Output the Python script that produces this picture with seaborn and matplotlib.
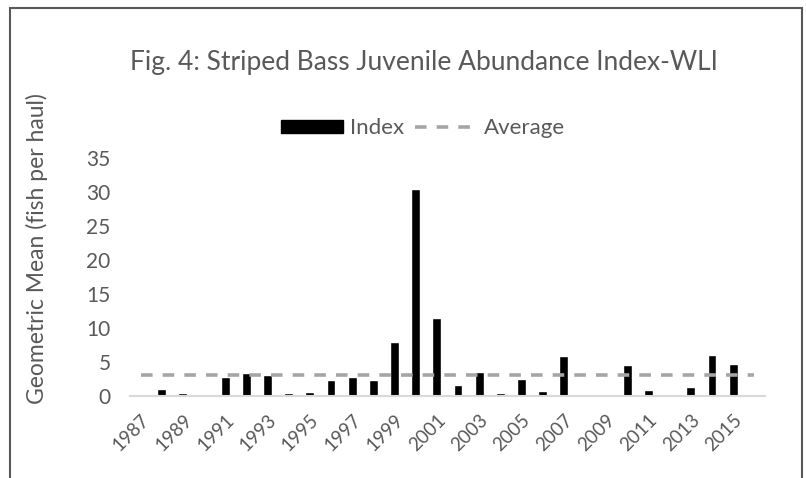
import matplotlib
matplotlib.use("Agg")
from matplotlib import pyplot as plt
from matplotlib.patches import Rectangle, Patch
from matplotlib.lines import Line2D
import pandas as pd
import seaborn as sns

years = [str(y) for y in range(1987, 2017)]
index_vals = [0.2, 1.0, 0.45, 0.2, 2.8, 3.4, 3.1, 0.5, 0.6, 2.4,
              2.8, 2.4, 8.0, 30.4, 11.4, 1.6, 3.6, 0.45, 2.5, 0.75,
              5.9, 0.05, 0.3, 4.5, 0.9, 0.1, 1.4, 6.1, 4.7, 0.25]
average_vals = [3.1] * len(years)

df = pd.DataFrame({"Year": years, "Index": index_vals, "Average": average_vals})

sns.set_style("white")
plt.rcParams["font.family"] = ["Lato", "DejaVu Sans"]
grey = "#595959"

fig = plt.figure(figsize=(8.06, 4.78), dpi=100)
ax = fig.add_axes([0.1613, 0.1715, 0.7877, 0.498])

sns.barplot(data=df, x="Year", y="Index", color="black", width=0.42,
            saturation=1, ax=ax)
sns.lineplot(data=df, x="Year", y="Average", color="#a5a5a5", lw=2.6,
             dashes=False, ax=ax, linestyle=(0, (3.2, 2.8)))

ax.set_ylim(0, 35)
ax.set_xlim(-0.5, len(years) - 0.5)
ax.set_yticks(range(0, 36, 5))
ax.set_xticks(range(0, len(years), 2))
ax.set_xticklabels(years[::2], rotation=45, ha="right", rotation_mode="anchor")
ax.tick_params(axis="both", length=0, colors=grey)
ax.tick_params(axis="x", pad=11, labelsize=13.5)
ax.tick_params(axis="y", pad=14, labelsize=15)
for s in ["top", "right", "left"]:
    ax.spines[s].set_visible(False)
ax.spines["bottom"].set_color("#d9d9d9")
ax.spines["bottom"].set_linewidth(1.5)

ax.set_xlabel("")
ax.set_ylabel("Geometric Mean (fish per haul)", color=grey, fontsize=16.5)
ax.yaxis.set_label_coords(-0.129, 0.62)

fig.text(0.526, 0.870, "Fig. 4: Striped Bass Juvenile Abundance Index-WLI",
         ha="center", va="center", fontsize=19, color=grey)

handles = [Patch(facecolor="black", edgecolor="black"),
           Line2D([], [], color="#a5a5a5", lw=2.6, linestyle=(0, (3.2, 2.8)))]
fig.legend(handles, ["Index", "Average"], loc="center", bbox_to_anchor=(0.525, 0.732),
           ncol=2, frameon=False, fontsize=16, labelcolor=grey,
           handlelength=2.8, handleheight=0.55, columnspacing=0.5, handletextpad=0.3)

fig.patches.append(Rectangle((0.0124, -0.02), 0.9826, 1.003, transform=fig.transFigure,
                             fill=False, edgecolor=grey, lw=1.5))

fig.savefig("out.png", dpi=100)
